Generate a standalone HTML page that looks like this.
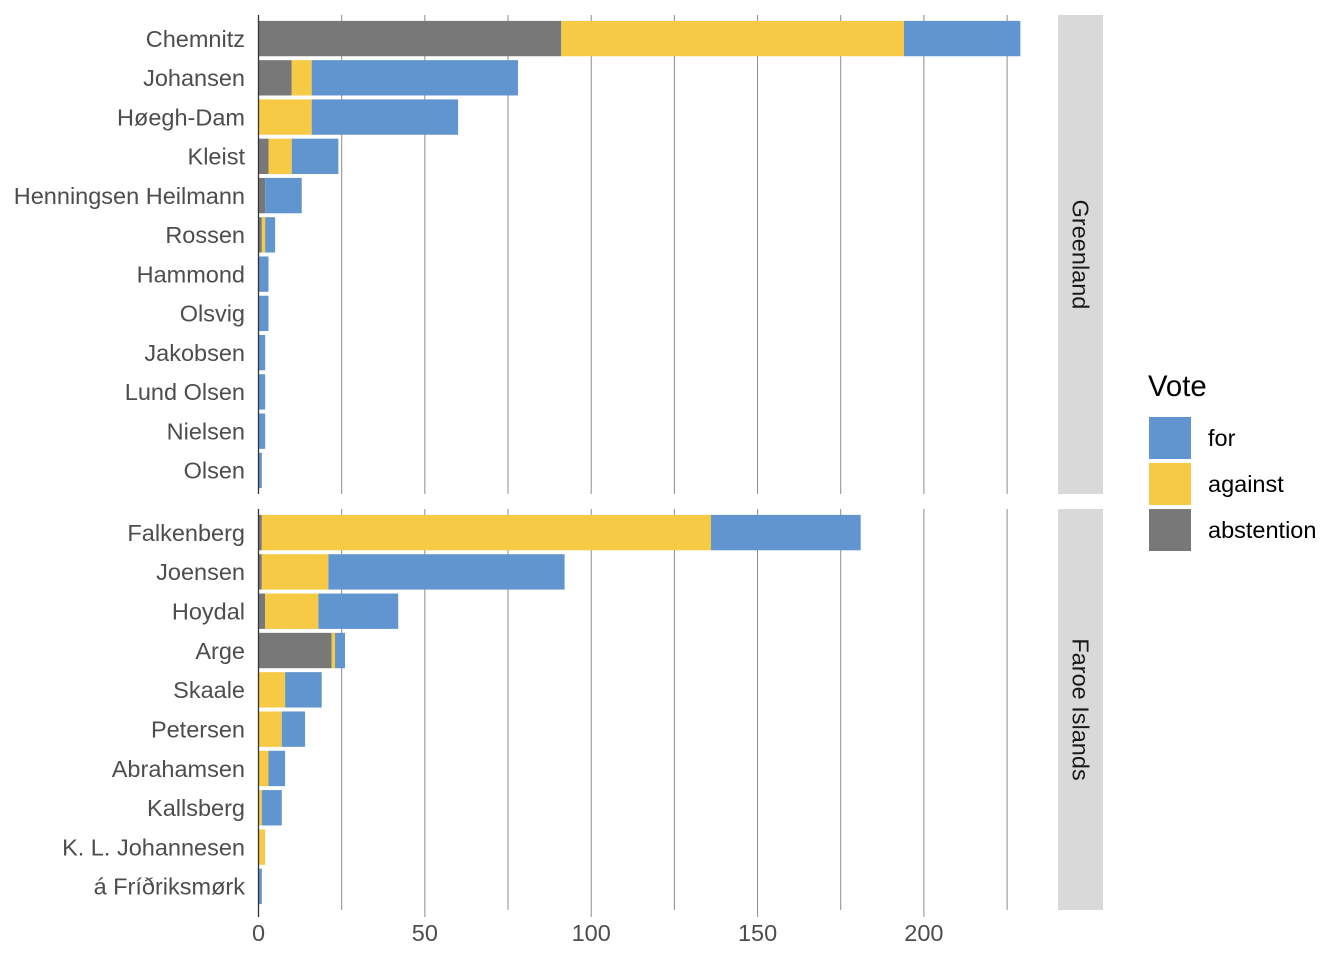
<!DOCTYPE html>
<html><head><meta charset="utf-8"><style>
html,body{margin:0;padding:0;background:#fff;}
svg{display:block;font-family:"Liberation Sans",Arial,sans-serif;}
</style></head><body>
<svg width="1344" height="960" viewBox="0 0 1344 960" xmlns="http://www.w3.org/2000/svg">
<rect width="1344" height="960" fill="#fff"/>
<!-- gridlines -->
<g stroke="#8c8c8c" stroke-width="1">
<line x1="341.7" y1="15" x2="341.7" y2="494"/><line x1="424.85" y1="15" x2="424.85" y2="494"/><line x1="508" y1="15" x2="508" y2="494"/><line x1="591.2" y1="15" x2="591.2" y2="494"/><line x1="674.4" y1="15" x2="674.4" y2="494"/><line x1="757.55" y1="15" x2="757.55" y2="494"/><line x1="840.7" y1="15" x2="840.7" y2="494"/><line x1="923.9" y1="15" x2="923.9" y2="494"/><line x1="1007.1" y1="15" x2="1007.1" y2="494"/>
<line x1="341.7" y1="509" x2="341.7" y2="910"/><line x1="424.85" y1="509" x2="424.85" y2="917"/><line x1="508" y1="509" x2="508" y2="910"/><line x1="591.2" y1="509" x2="591.2" y2="917"/><line x1="674.4" y1="509" x2="674.4" y2="910"/><line x1="757.55" y1="509" x2="757.55" y2="917"/><line x1="840.7" y1="509" x2="840.7" y2="910"/><line x1="923.9" y1="509" x2="923.9" y2="917"/><line x1="1007.1" y1="509" x2="1007.1" y2="910"/>
</g>
<!-- top panel bars -->
<g>
<rect x="258.5" y="20.89" width="302.76" height="35.34" fill="#787878"/>
<rect x="561.26" y="20.89" width="342.68" height="35.34" fill="#F6CA45"/>
<rect x="903.94" y="20.89" width="116.44" height="35.34" fill="#6195CF"/>

<rect x="258.5" y="60.15" width="33.27" height="35.34" fill="#787878"/>
<rect x="291.77" y="60.15" width="19.96" height="35.34" fill="#F6CA45"/>
<rect x="311.73" y="60.15" width="206.27" height="35.34" fill="#6195CF"/>

<rect x="258.5" y="99.41" width="53.23" height="35.34" fill="#F6CA45"/>
<rect x="311.73" y="99.41" width="146.39" height="35.34" fill="#6195CF"/>

<rect x="258.5" y="138.67" width="9.98" height="35.34" fill="#787878"/>
<rect x="268.48" y="138.67" width="23.29" height="35.34" fill="#F6CA45"/>
<rect x="291.77" y="138.67" width="46.58" height="35.34" fill="#6195CF"/>

<rect x="258.5" y="177.93" width="6.65" height="35.34" fill="#787878"/>
<rect x="265.15" y="177.93" width="36.6" height="35.34" fill="#6195CF"/>

<rect x="258.5" y="217.2" width="3.33" height="35.34" fill="#787878"/>
<rect x="261.83" y="217.2" width="3.33" height="35.34" fill="#F6CA45"/>
<rect x="265.15" y="217.2" width="9.98" height="35.34" fill="#6195CF"/>

<rect x="258.5" y="256.46" width="9.98" height="35.34" fill="#6195CF"/>
<rect x="258.5" y="295.72" width="9.98" height="35.34" fill="#6195CF"/>
<rect x="258.5" y="334.98" width="6.65" height="35.34" fill="#6195CF"/>
<rect x="258.5" y="374.24" width="6.65" height="35.34" fill="#6195CF"/>
<rect x="258.5" y="413.5" width="6.65" height="35.34" fill="#6195CF"/>
<rect x="258.5" y="452.77" width="3.33" height="35.34" fill="#6195CF"/>
</g>
<!-- bottom panel bars -->
<g>
<rect x="258.5" y="514.9" width="3.33" height="35.38" fill="#787878"/>
<rect x="261.83" y="514.9" width="449.15" height="35.38" fill="#F6CA45"/>
<rect x="710.97" y="514.9" width="149.72" height="35.38" fill="#6195CF"/>

<rect x="258.5" y="554.21" width="3.33" height="35.38" fill="#787878"/>
<rect x="261.83" y="554.21" width="66.54" height="35.38" fill="#F6CA45"/>
<rect x="328.37" y="554.21" width="236.22" height="35.38" fill="#6195CF"/>

<rect x="258.5" y="593.53" width="6.65" height="35.38" fill="#787878"/>
<rect x="265.15" y="593.53" width="53.23" height="35.38" fill="#F6CA45"/>
<rect x="318.39" y="593.53" width="79.85" height="35.38" fill="#6195CF"/>

<rect x="258.5" y="632.84" width="73.19" height="35.38" fill="#787878"/>
<rect x="331.69" y="632.84" width="3.33" height="35.38" fill="#F6CA45"/>
<rect x="335.02" y="632.84" width="9.98" height="35.38" fill="#6195CF"/>

<rect x="258.5" y="672.15" width="26.62" height="35.38" fill="#F6CA45"/>
<rect x="285.12" y="672.15" width="36.6" height="35.38" fill="#6195CF"/>

<rect x="258.5" y="711.47" width="23.29" height="35.38" fill="#F6CA45"/>
<rect x="281.79" y="711.47" width="23.29" height="35.38" fill="#6195CF"/>

<rect x="258.5" y="750.78" width="9.98" height="35.38" fill="#F6CA45"/>
<rect x="268.48" y="750.78" width="16.64" height="35.38" fill="#6195CF"/>

<rect x="258.5" y="790.09" width="3.33" height="35.38" fill="#F6CA45"/>
<rect x="261.83" y="790.09" width="19.96" height="35.38" fill="#6195CF"/>

<rect x="258.5" y="829.41" width="6.65" height="35.38" fill="#F6CA45"/>

<rect x="258.5" y="868.72" width="3.33" height="35.38" fill="#6195CF"/>
</g>
<!-- axis lines -->
<g stroke="#333" stroke-width="1.3">
<line x1="258.5" y1="15" x2="258.5" y2="494"/>
<line x1="258.5" y1="509" x2="258.5" y2="917"/>
</g>
<!-- y labels -->
<g font-size="23.5" fill="#4D4D4D" text-anchor="end">
<text x="245" y="46.9">Chemnitz</text>
<text x="245" y="86.1">Johansen</text>
<text x="245" y="125.4">Høegh-Dam</text>
<text x="245" y="164.6">Kleist</text>
<text x="245" y="203.9">Henningsen Heilmann</text>
<text x="245" y="243.2">Rossen</text>
<text x="245" y="282.4">Hammond</text>
<text x="245" y="321.7">Olsvig</text>
<text x="245" y="361">Jakobsen</text>
<text x="245" y="400.2">Lund Olsen</text>
<text x="245" y="439.5">Nielsen</text>
<text x="245" y="478.7">Olsen</text>
<text x="245" y="540.9">Falkenberg</text>
<text x="245" y="580.2">Joensen</text>
<text x="245" y="619.5">Hoydal</text>
<text x="245" y="658.8">Arge</text>
<text x="245" y="698.1">Skaale</text>
<text x="245" y="737.5">Petersen</text>
<text x="245" y="776.8">Abrahamsen</text>
<text x="245" y="816.1">Kallsberg</text>
<text x="245" y="855.4">K. L. Johannesen</text>
<text x="245" y="894.7">á Fríðriksmørk</text>
</g>
<!-- x labels -->
<g font-size="23.5" fill="#4D4D4D" text-anchor="middle">
<text x="258.5" y="941">0</text>
<text x="424.85" y="941">50</text>
<text x="591.2" y="941">100</text>
<text x="757.55" y="941">150</text>
<text x="923.9" y="941">200</text>
</g>
<!-- strips -->
<rect x="1058" y="15" width="45" height="479" fill="#D9D9D9"/>
<rect x="1058" y="509" width="45" height="401" fill="#D9D9D9"/>
<g font-size="23.5" fill="#1A1A1A" text-anchor="middle">
<text transform="translate(1072.5,254.5) rotate(90)">Greenland</text>
<text transform="translate(1072.5,709.5) rotate(90)">Faroe Islands</text>
</g>
<!-- legend -->
<text x="1148" y="396" font-size="29.3" fill="#000">Vote</text>
<rect x="1149" y="417" width="42" height="42" fill="#6195CF"/>
<rect x="1149" y="463" width="42" height="42" fill="#F6CA45"/>
<rect x="1149" y="509" width="42" height="42" fill="#787878"/>
<g font-size="23.5" fill="#000">
<text x="1208" y="446">for</text>
<text x="1208" y="492">against</text>
<text x="1208" y="538">abstention</text>
</g>
</svg>
</body></html>
